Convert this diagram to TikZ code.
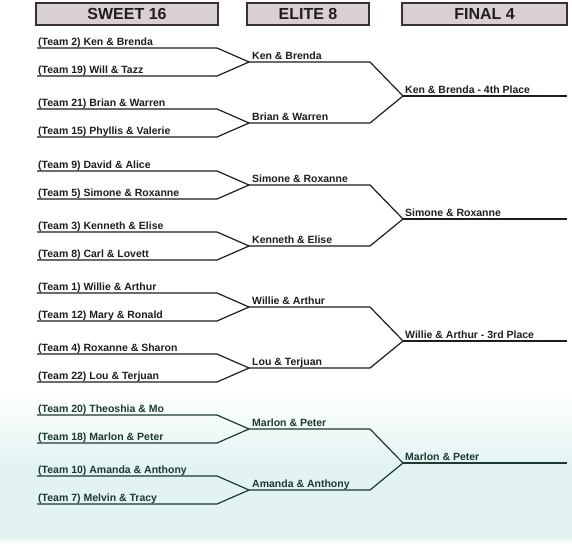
\documentclass[tikz,border=0pt]{standalone}
\usepackage{fontspec}
\setmainfont{Liberation Sans}
\definecolor{ink}{HTML}{221C1C}
\definecolor{inkg}{HTML}{1C3A32}
\definecolor{hdrfill}{HTML}{D9D1D1}
\definecolor{hdrline}{HTML}{3A3030}
\definecolor{tint}{HTML}{E2F3F2}
\tikzset{
  ln/.style={line width=1.2pt, line join=round},
  lbl/.style={font=\fontsize{10.5}{12}\selectfont\bfseries, inner sep=0pt, anchor=base west},
  hdr/.style={draw=hdrline, line width=1.6pt, fill=hdrfill, text=ink,
    font=\fontsize{16}{18}\selectfont\bfseries, inner sep=0pt, minimum height=22pt},
}
% #1 id, #2 base y, #3 colour, #4-#7 teams, #8 #9 elite winners
\newcommand\brkgroup[9]{%
  \coordinate (#1a1) at (37,{#2});    \coordinate (#1b1) at (217,{#2});
  \coordinate (#1a2) at (37,{#2+28}); \coordinate (#1b2) at (217,{#2+28});
  \coordinate (#1a3) at (37,{#2+61}); \coordinate (#1b3) at (217,{#2+61});
  \coordinate (#1a4) at (37,{#2+89}); \coordinate (#1b4) at (217,{#2+89});
  \coordinate (#1j1) at (249,{#2+14}); \coordinate (#1k1) at (370,{#2+14});
  \coordinate (#1j2) at (249,{#2+75}); \coordinate (#1k2) at (370,{#2+75});
  \coordinate (#1f) at (403,{#2+48});
  \draw[ln,#3] (#1a1) -- (#1b1) -- (#1j1) -- (#1b2) -- (#1a2);
  \draw[ln,#3] (#1a3) -- (#1b3) -- (#1j2) -- (#1b4) -- (#1a4);
  \draw[ln,#3] (#1j1) -- (#1k1) -- (#1f) -- (#1k2) -- (#1j2);
  \node[lbl,text=#3] (#1n1) at (38,{#2-3}) {#4};
  \node[lbl,text=#3] (#1n2) at (38,{#2+25}) {#5};
  \node[lbl,text=#3] (#1n3) at (38,{#2+58}) {#6};
  \node[lbl,text=#3] (#1n4) at (38,{#2+86}) {#7};
  \node[lbl,text=#3] (#1m1) at (252,{#2+11}) {#8};
  \node[lbl,text=#3] (#1m2) at (252,{#2+72}) {#9};
}
% #1 id, #2 base y, #3 colour, #4 final text
\newcommand\brkfinal[4]{%
  \coordinate (#1g) at (567,{#2+48});
  \draw[ln,#3] (#1f) -- (#1g);
  \node[lbl,text=#3] (#1w) at (405,{#2+45}) {#4};
}
\begin{document}
\begin{tikzpicture}[x=1pt,y=-1pt]
  \useasboundingbox (0,0) rectangle (572,549);
  \fill[white] (0,0) rectangle (572,549);
  \shade[top color=white, bottom color=tint] (0,388) rectangle (572,470);
  \fill[tint] (0,470) rectangle (572,536);
  \shade[top color=tint, bottom color=white] (0,536) rectangle (572,544);

  \node[hdr, minimum width=182pt] (h1) at (127,14) {SWEET 16};
  \node[hdr, minimum width=122pt] (h2) at (308,14) {ELITE 8};
  \node[hdr, minimum width=165pt] (h3) at (484.5,14) {FINAL 4};

  \brkgroup{A}{48}{ink}{(Team 2) Ken \& Brenda}{(Team 19) Will \& Tazz}{(Team 21) Brian \& Warren}{(Team 15) Phyllis \& Valerie}{Ken \& Brenda}{Brian \& Warren}
  \brkfinal{A}{48}{ink}{Ken \& Brenda - 4th Place}

  \brkgroup{B}{171}{ink}{(Team 9) David \& Alice}{(Team 5) Simone \& Roxanne}{(Team 3) Kenneth \& Elise}{(Team 8) Carl \& Lovett}{Simone \& Roxanne}{Kenneth \& Elise}
  \brkfinal{B}{171}{ink}{Simone \& Roxanne}

  \brkgroup{C}{293}{ink}{(Team 1) Willie \& Arthur}{(Team 12) Mary \& Ronald}{(Team 4) Roxanne \& Sharon}{(Team 22) Lou \& Terjuan}{Willie \& Arthur}{Lou \& Terjuan}
  \brkfinal{C}{293}{ink}{Willie \& Arthur - 3rd Place}

  \brkgroup{D}{415}{inkg}{(Team 20) Theoshia \& Mo}{(Team 18) Marlon \& Peter}{(Team 10) Amanda \& Anthony}{(Team 7) Melvin \& Tracy}{Marlon \& Peter}{Amanda \& Anthony}
  \brkfinal{D}{415}{inkg}{Marlon \& Peter}
\end{tikzpicture}
\end{document}
